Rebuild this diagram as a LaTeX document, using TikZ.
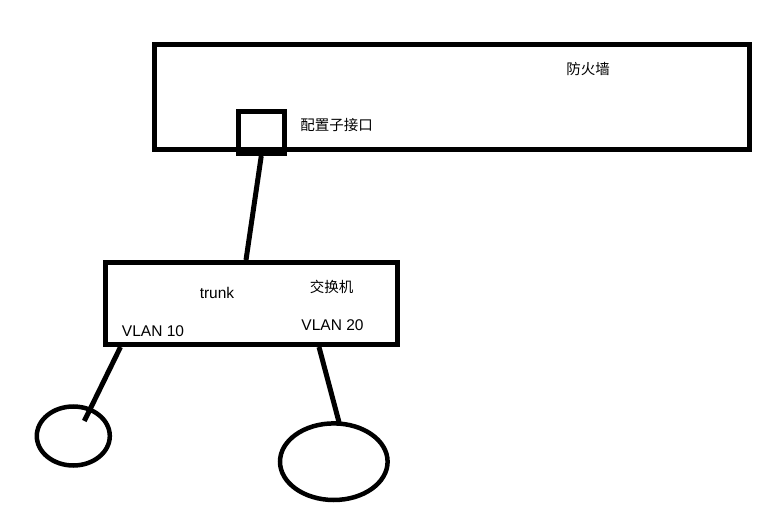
\documentclass[tikz,border=0pt]{standalone}
\usepackage{fontspec}
\setmainfont{Liberation Sans}
\newfontfamily\cjk{Noto Sans CJK SC}
\usetikzlibrary{shapes.geometric,calc}

\begin{document}
\begin{tikzpicture}[x=1bp,y=-1bp,
    box/.style={draw,line width=5bp,rectangle,inner sep=0pt},
    host/.style={draw,line width=4.5bp,ellipse,inner sep=0pt},
    wire/.style={line width=5bp},
    lbl/.style={inner sep=0pt,font=\fontsize{15.5bp}{18bp}\selectfont},
    cjklbl/.style={inner sep=0pt,font=\fontsize{14.5bp}{17bp}\selectfont\cjk}]
    \useasboundingbox (0,0) rectangle (779,511);
    % firewall with its sub-interface port
    \node[box,minimum width=595bp,minimum height=105bp] (fw) at (452,97) {};
    \node[box,minimum width=46.5bp,minimum height=42bp] (port) at (261.25,132.5) {};
    \node[cjklbl] (fwlbl) at (588,69) {防火墙};
    \node[cjklbl] (portlbl) at (336.5,125) {配置子接口};
    % switch
    \node[box,minimum width=292bp,minimum height=82bp] (sw) at (251.5,303.5) {};
    \node[lbl] (trunk) at (217,293) {trunk};
    \node[cjklbl] (swlbl) at (331.5,286.5) {交换机};
    \node[lbl] (vlan10) at (153,331.5) {VLAN 10};
    \node[lbl] (vlan20) at (332.5,325) {VLAN 20};
    % hosts
    \node[host,minimum width=73bp,minimum height=59bp] (lhost) at (73.3,436) {};
    \node[host,minimum width=107.6bp,minimum height=76.6bp] (rhost) at (333.8,461.7) {};
    % links
    \draw[wire] (port.south) -- ($(sw.north)+(-5.5,0)$);
    \draw[wire] ($(sw.south west)+(17.5,0)$) -- ($(lhost.center)+(11,-15)$);
    \draw[wire] ($(sw.south)+(67.5,0)$) -- ($(rhost.north)+(6,4)$);
  \end{tikzpicture}
\end{document}
